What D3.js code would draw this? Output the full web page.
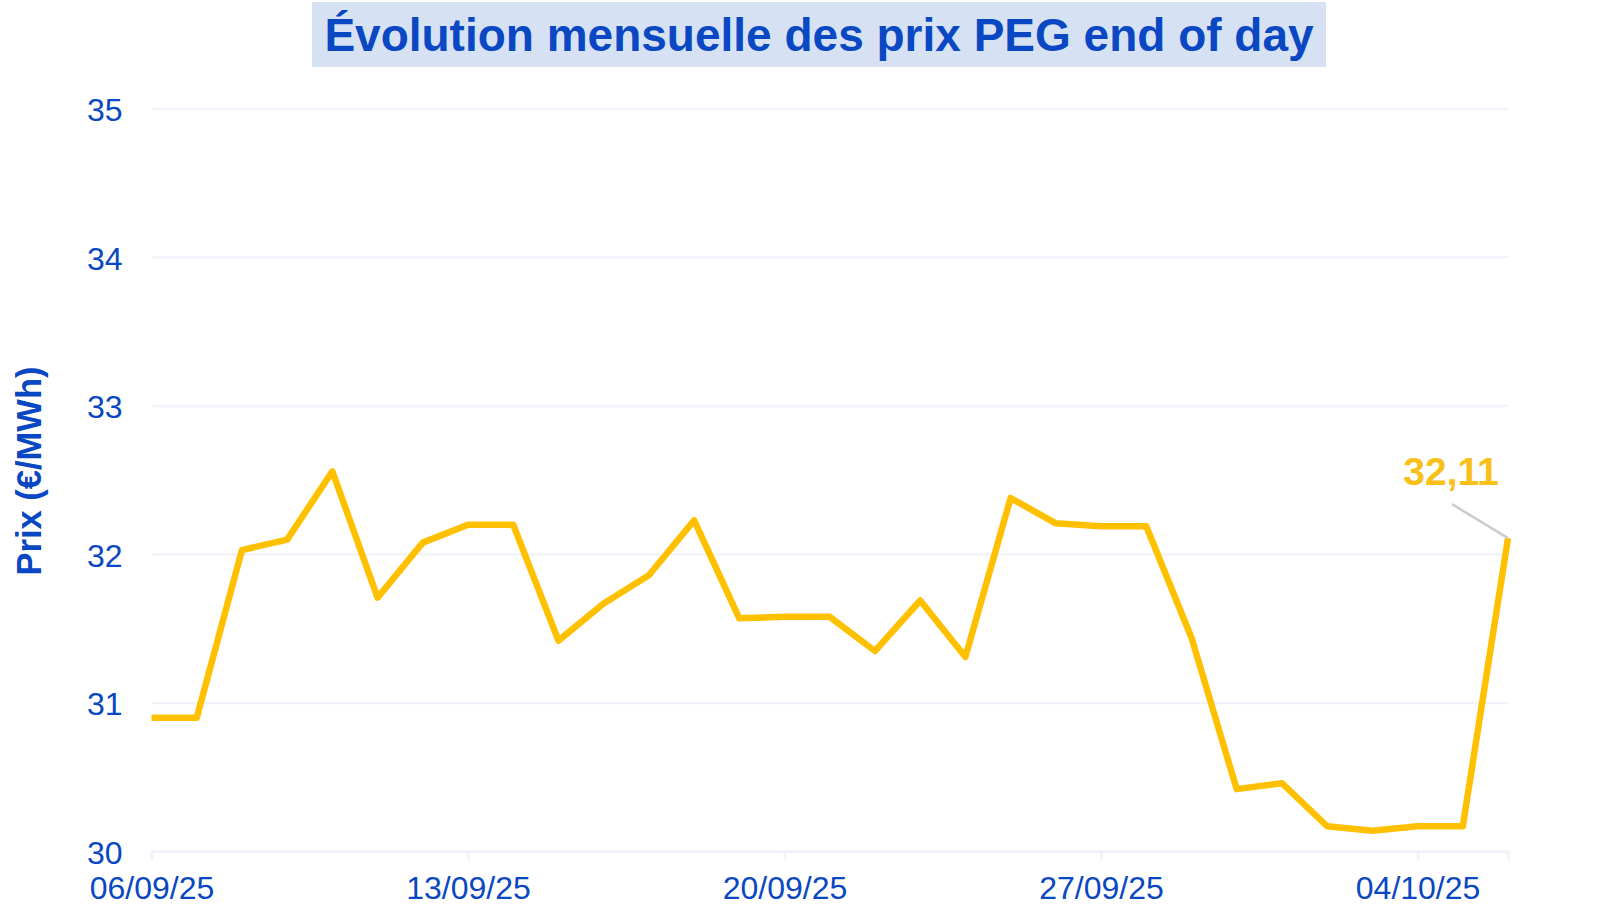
<!DOCTYPE html>
<html><head><meta charset="utf-8">
<script src="https://cdn.jsdelivr.net/npm/d3@7/dist/d3.min.js"></script>
<style>body{margin:0;background:#fff;font-family:"Liberation Sans",Arial,sans-serif}</style>
</head><body><svg id="c" width="1614" height="924"></svg>
<script>
const dates = ["06/09/25","07/09/25","08/09/25","09/09/25","10/09/25","11/09/25","12/09/25","13/09/25","14/09/25","15/09/25","16/09/25","17/09/25","18/09/25","19/09/25","20/09/25","21/09/25","22/09/25","23/09/25","24/09/25","25/09/25","26/09/25","27/09/25","28/09/25","29/09/25","30/09/25","01/10/25","02/10/25","03/10/25","04/10/25","05/10/25","06/10/25"];
const prices = [30.90,30.90,32.03,32.10,32.56,31.71,32.08,32.20,32.20,31.42,31.67,31.86,32.23,31.57,31.58,31.58,31.35,31.69,31.31,32.38,32.21,32.19,32.19,31.44,30.42,30.46,30.17,30.14,30.17,30.17,32.11];
const xTicks = ["06/09/25","13/09/25","20/09/25","27/09/25","04/10/25"];
const yTicks = [30,31,32,33,34,35];
const title = "Évolution mensuelle des prix PEG end of day";
const yLabel = "Prix (€/MWh)";
const lastLabel = "32,11";

const parse = d3.timeParse("%d/%m/%y");
const data = dates.map((d,i)=>({date:parse(d), v:prices[i]}));
const svg = d3.select("#c");
const blue = "#0a47c2";
const gridCol = "#f0f3f9";
const x = d3.scaleTime().domain([parse(dates[0]), parse(dates[dates.length-1])]).range([151.5,1508]);
const y = d3.scaleLinear().domain([30,35]).range([851.5,109]);

// title
const tg = svg.append("g");
tg.append("rect").attr("x",312).attr("y",2).attr("width",1014).attr("height",65).attr("fill","#d6e2f4");
tg.append("text").attr("x",819).attr("y",51).attr("text-anchor","middle").attr("font-size",46).attr("font-weight","bold").attr("fill",blue).text(title);

// grid
svg.append("g").selectAll("line").data(yTicks).join("line")
  .attr("x1",151.5).attr("x2",1508).attr("y1",d=>y(d)).attr("y2",d=>y(d))
  .attr("stroke",gridCol).attr("stroke-width",2.5);

// y axis
const ya = svg.append("g").attr("transform","translate(151.5,0)").call(d3.axisLeft(y).tickValues(yTicks).tickSize(0).tickPadding(29).tickFormat(d3.format("d")));
ya.select(".domain").remove();
ya.selectAll("text").attr("font-size",32).attr("fill",blue).attr("font-family","Liberation Sans, Arial, sans-serif").attr("dy","0.36em");

// x axis
const xa = svg.append("g").attr("transform","translate(0,851.5)").call(d3.axisBottom(x).tickValues(xTicks.map(parse)).tickSize(9).tickPadding(16).tickFormat(d3.timeFormat("%d/%m/%y")));
xa.select(".domain").attr("stroke",gridCol).attr("stroke-width",2.5);
xa.selectAll(".tick line").attr("stroke",gridCol).attr("stroke-width",2.5);
xa.selectAll("text").attr("font-size",32).attr("fill",blue).attr("font-family","Liberation Sans, Arial, sans-serif");

// y label
svg.append("text").attr("transform","translate(41,471) rotate(-90)").attr("text-anchor","middle")
  .attr("font-size",34.5).attr("font-weight","bold").attr("fill",blue).text(yLabel);

// line
svg.append("path").datum(data).attr("fill","none").attr("stroke","#ffc000").attr("stroke-width",6.5)
  .attr("stroke-linejoin","round")
  .attr("d",d3.line().x(d=>x(d.date)).y(d=>y(d.v)));

// annotation
const last = data[data.length-1];
svg.append("line").attr("x1",x(last.date)-56).attr("y1",y(last.v)-34).attr("x2",x(last.date)).attr("y2",y(last.v))
  .attr("stroke","#cccccc").attr("stroke-width",2.5);
svg.append("text").attr("x",x(last.date)-57).attr("y",y(last.v)-53).attr("text-anchor","middle")
  .attr("font-size",39).attr("font-weight","bold").attr("fill","#f9c01a").text(lastLabel);
</script></body></html>
